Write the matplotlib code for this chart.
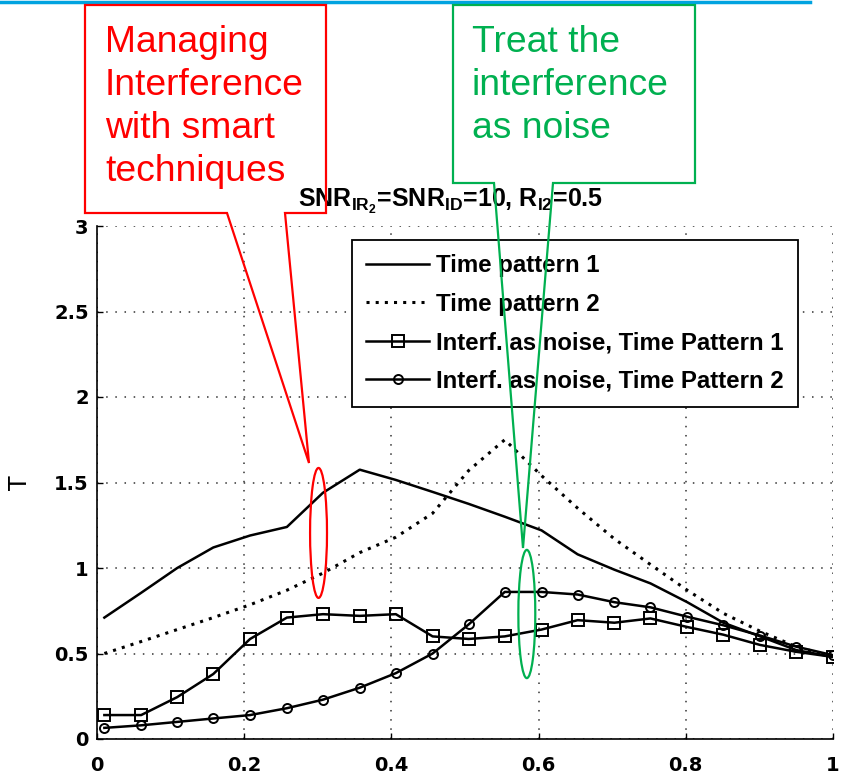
import numpy as np
import matplotlib
matplotlib.use("Agg")
import matplotlib.pyplot as plt
from matplotlib.patches import Polygon, Ellipse
from matplotlib.lines import Line2D

plt.rcParams['mathtext.default'] = 'regular'

# values
x = [0.010, 0.060, 0.109, 0.158, 0.208, 0.258, 0.307, 0.357, 0.406, 0.456,
     0.505, 0.554, 0.604, 0.653, 0.703, 0.752, 0.802, 0.851, 0.901, 0.950, 1.000]
tp1 = [0.71, 0.855, 1.00, 1.12, 1.19, 1.24, 1.44, 1.575, 1.515, 1.445,
       1.375, 1.30, 1.22, 1.08, 0.99, 0.91, 0.80, 0.68, 0.60, 0.52, 0.48]
tp2 = [0.50, 0.57, 0.64, 0.71, 0.785, 0.87, 0.97, 1.09, 1.18, 1.32,
       1.57, 1.75, 1.54, 1.35, 1.17, 1.02, 0.87, 0.735, 0.63, 0.54, 0.48]
noise_tp1 = [0.14, 0.14, 0.245, 0.38, 0.585, 0.71, 0.73, 0.72, 0.73, 0.60,
             0.585, 0.60, 0.64, 0.695, 0.68, 0.705, 0.655, 0.61, 0.55, 0.51, 0.48]
noise_tp2 = [0.065, 0.08, 0.10, 0.12, 0.14, 0.18, 0.23, 0.30, 0.385, 0.50,
             0.67, 0.86, 0.86, 0.845, 0.80, 0.77, 0.715, 0.665, 0.605, 0.54, 0.49]
labels = ['Time pattern 1', 'Time pattern 2',
          'Interf. as noise, Time Pattern 1', 'Interf. as noise, Time Pattern 2']
xticks = [0, 0.2, 0.4, 0.6, 0.8, 1]
yticks = [0, 0.5, 1, 1.5, 2, 2.5, 3]
red_text = 'Managing\nInterference\nwith smart\ntechniques'
green_text = 'Treat the\ninterference\nas noise'

W, H = 844, 777


def fpt(px, py):
    # pixel (from top-left) -> figure fraction
    return (px / W, 1 - py / H)


fig = plt.figure(figsize=(W / 100, H / 100), dpi=100)
ax = fig.add_axes([97 / W, 1 - 739 / H, 736 / W, 513 / H])

dotted = (0, (1, 2.0))
ax.plot(x, tp1, color='black', lw=1.8, label=labels[0])
ax.plot(x, tp2, color='black', lw=2.2, ls=dotted, label=labels[1])
ax.plot(x, noise_tp1, color='black', lw=1.8, marker='s', ms=8,
        mfc='none', mec='black', mew=1.4, label=labels[2])
ax.plot(x, noise_tp2, color='black', lw=1.8, marker='o', ms=6.5,
        mfc='none', mec='black', mew=1.4, label=labels[3])

ax.set_xlim(0, 1)
ax.set_ylim(0, 3)
ax.set_xticks(xticks)
ax.set_xticklabels([f'{t:g}' for t in xticks])
ax.set_yticks(yticks)
ax.set_yticklabels([f'{t:g}' for t in yticks])
ax.tick_params(direction='in', length=4, width=1, top=False, right=False)
ax.tick_params(axis='x', pad=12)
ax.tick_params(axis='y', pad=6)
for lab in ax.get_xticklabels() + ax.get_yticklabels():
    lab.set_fontfamily('DejaVu Sans')
    lab.set_fontweight('bold')
    lab.set_fontsize(14)
ax.spines['top'].set_visible(False)
ax.spines['right'].set_visible(False)
ax.spines['left'].set_linewidth(1.2)
ax.spines['bottom'].set_linewidth(1.2)
ax.grid(True, color='#333333', lw=1.1, ls=(0, (1, 5)))
ax.set_ylabel('T', fontsize=17, family='DejaVu Sans')
ax.yaxis.set_label_coords(-0.088, 0.5)

leg = ax.legend(loc='upper left', bbox_to_anchor=fpt(352, 240),
                bbox_transform=fig.transFigure, borderaxespad=0,
                prop={'family': 'Liberation Sans', 'weight': 'bold', 'size': 17.3},
                handlelength=2.6, handletextpad=0.3, labelspacing=0.64,
                borderpad=0.6, fancybox=False, framealpha=1, edgecolor='black')
leg.get_frame().set_linewidth(1.3)

fig.text(*fpt(451, 207),
         r'SNR$_{IR_2}$=SNR$_{ID}$=10, R$_{I2}$=0.5',
         ha='center', va='baseline', fontsize=18, family='Liberation Sans',
         fontweight='bold', zorder=5)

# blue rule at the top of the slide
fig.add_artist(Line2D([0, 810 / W], [1 - 2 / H, 1 - 2 / H],
                      color='#00a3e0', lw=2.5, transform=fig.transFigure))

# callouts
red_box = [(85, 5), (326, 5), (326, 213), (285, 213), (309, 463), (227, 213), (85, 213)]
green_box = [(453, 5), (695, 5), (695, 183), (553, 183), (523, 548), (494, 183), (453, 183)]
fig.add_artist(Polygon([fpt(*p) for p in red_box], closed=True, fill=False,
                       ec='#ff0000', lw=1.6, transform=fig.transFigure, zorder=6))
fig.add_artist(Polygon([fpt(*p) for p in green_box], closed=True, fill=False,
                       ec='#00b050', lw=1.6, transform=fig.transFigure, zorder=6))
fig.text(*fpt(105, 25), red_text, color='#ff0000', fontsize=26.8,
         family='Liberation Sans', ha='left', va='top', linespacing=1.3)
fig.text(*fpt(472, 25), green_text, color='#00b050', fontsize=26.8,
         family='Liberation Sans', ha='left', va='top', linespacing=1.3)

ax.add_patch(Ellipse((0.301, 1.205), 0.023, 0.76, fill=False, ec='#ff0000',
                     lw=1.6, clip_on=False, zorder=6))
ax.add_patch(Ellipse((0.584, 0.731), 0.023, 0.75, fill=False, ec='#00b050',
                     lw=1.6, clip_on=False, zorder=6))

fig.savefig('out.png', dpi=100)
